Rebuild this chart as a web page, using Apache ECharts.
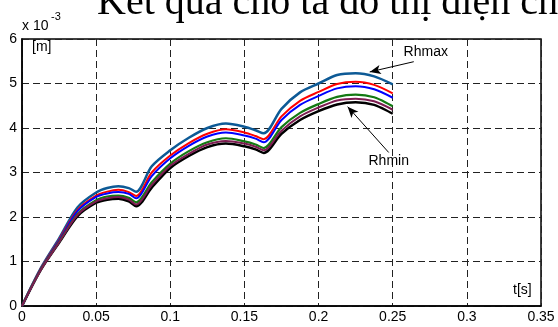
<!DOCTYPE html>
<html>
<head>
<meta charset="utf-8">
<script src="https://cdn.jsdelivr.net/npm/echarts/dist/echarts.min.js"></script>
<style>
html, body { margin: 0; padding: 0; background: #fff; }
#main { width: 558px; height: 327px; }
</style>
</head>
<body>
<div id="main"></div>
<script>
// time axis [s]
var timeS = [0, 0.0125, 0.025, 0.0375, 0.05, 0.0575, 0.065, 0.072, 0.077, 0.0875, 0.1, 0.1125,
    0.125, 0.1375, 0.15, 0.1575, 0.163, 0.175, 0.1875, 0.2, 0.2125, 0.225, 0.2375, 0.25];
// displacement [m] x 10^-3, from top curve (Rhmax) to bottom curve (Rhmin)
var rhMax  = [0, 0.84, 1.52, 2.22, 2.55, 2.65, 2.69, 2.65, 2.57, 3.14, 3.50, 3.78, 4.00, 4.10, 4.03, 3.95, 3.88, 4.43, 4.80, 5.00, 5.19, 5.23, 5.16, 4.98];
var rhRed  = [0, 0.83, 1.49, 2.16, 2.48, 2.57, 2.61, 2.56, 2.47, 3.00, 3.38, 3.66, 3.87, 3.97, 3.90, 3.82, 3.75, 4.26, 4.61, 4.81, 4.99, 5.04, 4.97, 4.78];
var rhBlue = [0, 0.82, 1.47, 2.13, 2.45, 2.53, 2.56, 2.52, 2.42, 2.92, 3.32, 3.60, 3.81, 3.90, 3.83, 3.76, 3.68, 4.18, 4.52, 4.72, 4.89, 4.94, 4.87, 4.68];
var rhGreen= [0, 0.81, 1.44, 2.07, 2.38, 2.46, 2.48, 2.43, 2.33, 2.78, 3.20, 3.48, 3.68, 3.77, 3.70, 3.63, 3.55, 4.02, 4.34, 4.54, 4.70, 4.75, 4.69, 4.49];
var rhPurp = [0, 0.80, 1.43, 2.05, 2.35, 2.42, 2.45, 2.39, 2.28, 2.72, 3.15, 3.42, 3.63, 3.71, 3.65, 3.58, 3.50, 3.94, 4.26, 4.46, 4.62, 4.66, 4.60, 4.41];
var rhMin  = [0, 0.80, 1.42, 2.02, 2.32, 2.39, 2.41, 2.35, 2.24, 2.66, 3.10, 3.37, 3.57, 3.65, 3.59, 3.52, 3.44, 3.87, 4.18, 4.38, 4.53, 4.58, 4.52, 4.32];

var xTickLabels = ['0', '0.05', '0.1', '0.15', '0.2', '0.25', '0.3', '0.35'];
var yTickLabels = ['0', '1', '2', '3', '4', '5', '6'];

// annotation arrows [t, value]: label position, arrow start, arrow tip
var maxLabel = [0.2723, 5.70];
var maxArrow = [[0.2642, 5.49], [0.2345, 5.26]];
var minLabel = [0.2473, 3.25];
var minArrow = [[0.2473, 3.45], [0.2196, 4.48]];

var chart = echarts.init(document.getElementById('main'));

function pairs(arr) {
    return timeS.map(function (t, i) { return [t, arr[i]]; });
}

function curve(name, arr, color, width, extra) {
    var s = {
        name: name,
        type: 'line',
        data: pairs(arr),
        showSymbol: false,
        smooth: 0.3,
        silent: true,
        lineStyle: { color: color, width: width }
    };
    return Object.assign(s, extra || {});
}

function arrow(from, to) {
    return {
        silent: true,
        symbol: ['none', 'arrow'],
        symbolSize: [7, 11],
        label: { show: false },
        lineStyle: { color: '#000', width: 1, type: 'solid' },
        data: [[{ coord: from }, { coord: to }]]
    };
}

function tag(text, pos) {
    return {
        silent: true,
        symbol: 'circle',
        symbolSize: 0,
        label: { show: true, position: 'inside', formatter: text, color: '#000',
                 fontSize: 14, fontFamily: 'Liberation Sans' },
        data: [{ coord: pos }]
    };
}

var font = 'Liberation Sans';

var option = {
    animation: false,
    grid: { left: 22, top: 39, right: 17, bottom: 21, show: true, borderColor: '#000', borderWidth: 1.5 },
    xAxis: {
        type: 'value', min: 0, max: 0.35, interval: 0.05,
        axisLine: { lineStyle: { color: '#000', width: 1.5 } },
        axisTick: { show: false },
        axisLabel: {
            color: '#000', fontSize: 14, fontFamily: font, margin: 4,
            formatter: function (v) { return xTickLabels[Math.round(v / 0.05)]; }
        },
        splitLine: { show: true, lineStyle: { color: '#222', type: [7, 4], width: 1 } }
    },
    yAxis: {
        type: 'value', min: 0, max: 6, interval: 1,
        axisLine: { show: true, lineStyle: { color: '#000', width: 1.5 } },
        axisTick: { show: false },
        axisLabel: {
            color: '#000', fontSize: 14, fontFamily: font, margin: 5,
            formatter: function (v) { return yTickLabels[Math.round(v)]; }
        },
        splitLine: { show: true, lineStyle: { color: '#222', type: [7, 4], width: 1 } }
    },
    series: [
        curve('Rhmin', rhMin, '#000000', 2.5, { markLine: arrow(minArrow[0], minArrow[1]), markPoint: tag('Rhmin', minLabel) }),
        curve('Rhmax', rhMax, '#0d5a96', 2.5, { markLine: arrow(maxArrow[0], maxArrow[1]), markPoint: tag('Rhmax', maxLabel) }),
        curve('R2', rhRed, '#ff0000', 2),
        curve('R3', rhBlue, '#0000ff', 2),
        curve('R4', rhGreen, '#137a13', 2.2),
        curve('R5', rhPurp, '#7c1c50', 2)
    ],
    graphic: [
        { type: 'text', x: 97, y: 3, silent: true,
          style: { text: 'Kết quả cho ta đồ thị điện chuyển vị', font: '40px "Liberation Serif"', fill: '#000', verticalAlign: 'middle' } },
        { type: 'text', x: 22, y: 26, silent: true,
          style: { text: 'x 10', font: '14px "Liberation Sans"', fill: '#000', verticalAlign: 'middle' } },
        { type: 'text', x: 51, y: 17, silent: true,
          style: { text: '-3', font: '11px "Liberation Sans"', fill: '#000', verticalAlign: 'middle' } },
        { type: 'text', x: 32, y: 47, silent: true,
          style: { text: '[m]', font: '14px "Liberation Sans"', fill: '#000', verticalAlign: 'middle' } },
        { type: 'text', x: 513, y: 290, silent: true,
          style: { text: 't[s]', font: '14px "Liberation Sans"', fill: '#000', verticalAlign: 'middle' } }
    ]
};

chart.setOption(option);
</script>
</body>
</html>
